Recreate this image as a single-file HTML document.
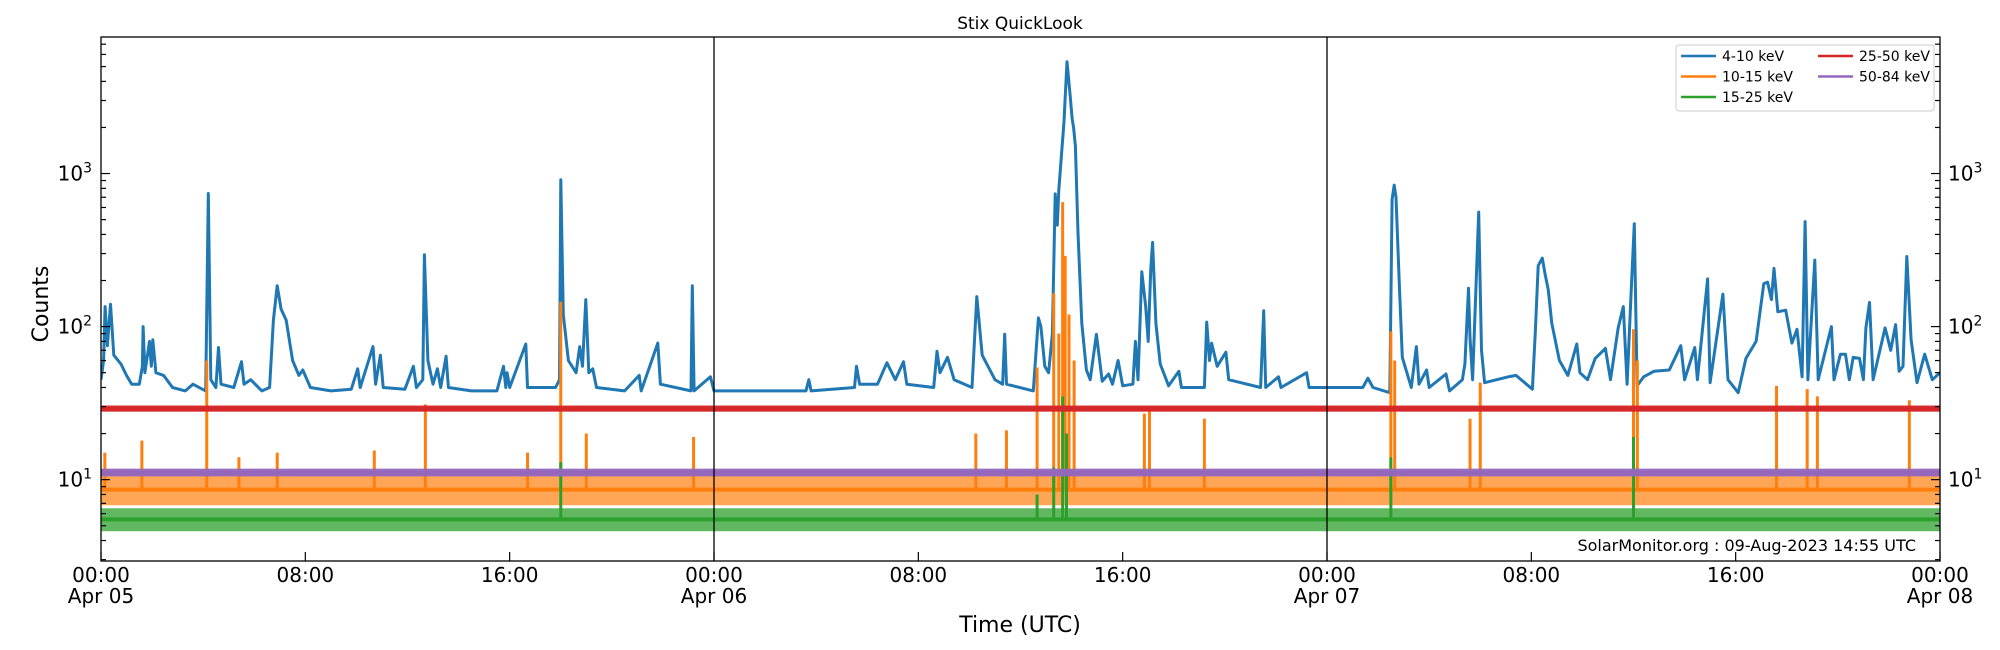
<!DOCTYPE html>
<html><head><meta charset="utf-8"><style>
html,body{margin:0;padding:0;background:#fff;}
svg{display:block;font-family:"DejaVu Sans","Liberation Sans",sans-serif;}
</style></head><body>
<svg id="chart" width="2000" height="650" viewBox="0 0 2000 650" xmlns="http://www.w3.org/2000/svg">
<defs><clipPath id="plotclip"><rect x="101" y="37" width="1839" height="524"/></clipPath></defs>
<text x="1020" y="29" font-size="17" text-anchor="middle">Stix QuickLook</text>
<g id="series" clip-path="url(#plotclip)"></g>
<g id="axes"></g>
<rect x="101" y="37" width="1839" height="524" fill="none" stroke="#000" stroke-width="1.3"/>
<text x="48" y="304" font-size="22" text-anchor="middle" transform="rotate(-90 48 304)">Counts</text>
<text x="1020" y="632" font-size="22" text-anchor="middle">Time (UTC)</text>
<text x="1916" y="551" font-size="16" text-anchor="end">SolarMonitor.org : 09-Aug-2023 14:55 UTC</text>
<g>
<rect x="1676" y="45" width="258" height="66" rx="3" fill="#fff" stroke="#ccc" stroke-width="1"/>
<line x1="1681" y1="56" x2="1716" y2="56" stroke="#1f77b4" stroke-width="2.5"/>
<text x="1722" y="61" font-size="14">4-10 keV</text>
<line x1="1681" y1="76.5" x2="1716" y2="76.5" stroke="#ff7f0e" stroke-width="2.5"/>
<text x="1722" y="81.5" font-size="14">10-15 keV</text>
<line x1="1681" y1="97" x2="1716" y2="97" stroke="#2ca02c" stroke-width="2.5"/>
<text x="1722" y="102" font-size="14">15-25 keV</text>
<line x1="1818" y1="56" x2="1853" y2="56" stroke="#d62728" stroke-width="2.5"/>
<text x="1859" y="61" font-size="14">25-50 keV</text>
<line x1="1818" y1="76.5" x2="1853" y2="76.5" stroke="#9467bd" stroke-width="2.5"/>
<text x="1859" y="81.5" font-size="14">50-84 keV</text>
</g>
</svg>
<script>
// ---- data ----
const blueHours = [0,0.1,0.16,0.25,0.37,0.5,0.78,1.0,1.2,1.5,1.62,1.65,1.72,1.9,1.97,2.03,2.15,2.45,2.8,3.3,3.6,4.1,4.2,4.3,4.5,4.6,4.7,5.2,5.5,5.6,5.86,6.3,6.6,6.75,6.9,7.05,7.25,7.5,7.75,7.9,8.2,9.0,9.8,10.05,10.15,10.65,10.75,10.94,11.05,11.9,12.23,12.35,12.6,12.66,12.8,13.0,13.17,13.3,13.51,13.6,14.5,15.5,15.76,15.85,15.9,16.0,16.63,16.7,17.8,17.95,18.0,18.1,18.3,18.6,18.74,18.85,18.98,19.1,19.25,19.4,20.5,21.07,21.15,21.8,21.9,23.1,23.15,23.22,23.86,24.0,27.6,27.71,27.8,29.5,29.58,29.7,30.4,30.77,31.1,31.42,31.55,32.6,32.73,32.85,33.14,33.4,34.1,34.29,34.5,35.0,35.3,35.38,35.45,36.5,36.7,36.8,36.95,37.1,37.25,37.36,37.44,37.5,37.7,37.82,37.95,38.02,38.08,38.15,38.25,38.4,38.58,38.73,38.97,39.2,39.45,39.6,39.82,40.0,40.4,40.5,40.6,40.75,40.9,41.0,41.1,41.17,41.3,41.47,41.8,42.2,42.3,43.2,43.29,43.4,43.48,43.7,44.04,44.15,45.4,45.52,45.6,46.1,46.2,47.2,47.3,49.4,49.6,49.8,50.46,50.55,50.63,50.7,50.83,50.95,51.3,51.5,51.6,51.9,52.0,52.66,52.8,53.3,53.4,53.54,53.6,53.7,53.94,54.05,54.17,55.1,55.4,56.04,56.16,56.27,56.43,56.54,56.66,56.8,57.1,57.43,57.78,57.9,58.2,58.5,58.9,59.1,59.4,59.6,59.75,59.9,60.03,60.14,60.4,60.8,61.4,61.85,62.0,62.4,62.5,62.9,63.0,63.5,63.7,64.1,64.4,64.8,65.1,65.25,65.4,65.5,65.65,65.96,66.2,66.4,66.6,66.72,66.83,67.1,67.23,67.75,67.85,68.1,68.3,68.45,68.6,68.85,69.0,69.1,69.24,69.38,69.85,70.07,70.26,70.4,70.55,70.7,70.87,71.1,71.4,71.7,72];
const blueCounts = [45,60,135,75,140,65,57,48,42,42,55,100,50,80,55,82,50,48,40,38,42,38,740,45,40,73,42,40,59,42,45,38,40,110,185,130,110,60,48,52,40,38,39,53,40,74,42,65,40,39,55,40,45,295,60,42,53,40,64,40,38,38,55,40,50,40,77,40,40,45,910,120,60,50,74,55,150,50,53,40,38,48,38,78,42,38,185,38,47,38,38,45,38,40,55,42,42,58,45,59,42,40,69,50,63,45,40,157,65,45,42,89,42,38,114,100,55,50,90,736,460,780,2140,5370,3160,2300,1990,1510,410,105,52,45,89,44,49,42,60,41,42,80,45,228,135,80,240,355,105,57,41,51,40,40,107,60,78,55,68,45,40,127,40,47,40,50,40,40,46,40,37,680,840,700,190,63,40,74,42,52,40,49,38,45,57,178,85,45,560,70,43,47,48,39,95,250,280,220,175,105,60,48,77,50,45,62,72,45,98,135,42,155,470,41,47,51,52,75,45,73,45,205,43,163,45,37,62,80,191,195,150,240,125,128,78,96,47,485,45,272,45,100,45,66,66,45,63,62,45,98,144,45,98,70,103,51,55,287,82,43,66,45,50];
const orangeSpikeHours = [0.15,1.6,4.14,5.4,6.9,10.7,12.7,16.7,18.0,19.0,23.2,34.25,35.45,36.65,37.3,37.5,37.65,37.75,37.9,38.1,40.85,41.05,43.2,50.5,50.65,53.6,54.0,60.0,60.15,65.6,66.8,67.2,70.8];
const orangeSpikeValues = [15,18,60,14,15,15.5,31,15,145,20,19,20,21,54,165,90,650,290,120,60,27,28,25,93,60,25,43,96,60,41,39,35,33];
const greenSpikeHours = [18.0,36.65,37.3,37.65,37.8,50.5,60.0];
const greenSpikeValues = [13,8,12,35,20,14,19];
const bandNames = ["orange","green","red","purple"];
const bandLow = [6.8, 4.6, 27.8, 10.5];
const bandHigh = [10.8, 6.5, 30.5, 11.8];
const bandMid = [8.6, 5.5, 29, 11.1];
const bandOpacity = [0.7, 0.75, 0.95, 0.95];
const xTickHours = [0,8,16,24,32,40,48,56,64,72];
const xTickTimes = ["00:00","08:00","16:00","00:00","08:00","16:00","00:00","08:00","16:00","00:00"];
const xTickDates = ["Apr 05","","","Apr 06","","","Apr 07","","","Apr 08"];
const yDecades = [1,2,3];

// ---- scales ----
const X0=101, X1=1940, Y0=37, Y1=561;
const LMIN=Math.log10(2.94), LMAX=Math.log10(7800);
function xs(h){return X0+(h/72)*(X1-X0);}
function ys(v){return Y1-(Math.log10(v)-LMIN)/(LMAX-LMIN)*(Y1-Y0);}
const NS="http://www.w3.org/2000/svg";
function mk(tag,attrs,parent){const e=document.createElementNS(NS,tag);for(const k in attrs)e.setAttribute(k,attrs[k]);parent.appendChild(e);return e;}
const series=document.getElementById('series');
const axes=document.getElementById('axes');
const colors={orange:"#ff7f0e",green:"#2ca02c",red:"#d62728",purple:"#9467bd"};

// blue line
let d="";
for(let i=0;i<blueHours.length;i++){d+=(i?"L":"M")+xs(blueHours[i]).toFixed(1)+","+ys(blueCounts[i]).toFixed(1);}
const blue=mk('path',{d:d,fill:"none",stroke:"#1f77b4","stroke-width":"3","stroke-linejoin":"round"},series);



function band(i){
  const c=colors[bandNames[i]];
  const r=mk('rect',{x:X0,y:ys(bandHigh[i]),width:X1-X0,height:ys(bandLow[i])-ys(bandHigh[i]),fill:c,opacity:bandOpacity[i]},series);
  
  
  const l=mk('line',{x1:X0,x2:X1,y1:ys(bandMid[i]),y2:ys(bandMid[i]),stroke:c,"stroke-width":"4"},series);
  
  
}
function spikes(hours,vals,i){
  const c=colors[bandNames[i]];
  for(let k=0;k<hours.length;k++){
    const s=mk('line',{x1:xs(hours[k]),x2:xs(hours[k]),y1:ys(bandMid[i]),y2:ys(vals[k]),stroke:c,"stroke-width":"3"},series);
    
    
  }
}
band(0); spikes(orangeSpikeHours,orangeSpikeValues,0);
band(1); spikes(greenSpikeHours,greenSpikeValues,1);
band(2);
band(3);

// day separators
[24,48].forEach(h=>{
  const v=mk('line',{x1:xs(h),x2:xs(h),y1:Y0,y2:Y1,stroke:"#000","stroke-width":"1.3"},axes);
  
  
});
// x ticks
for(let i=0;i<xTickHours.length;i++){
  const x=xs(xTickHours[i]);
  const t=mk('line',{x1:x,x2:x,y1:Y1,y2:Y1-9,stroke:"#000","stroke-width":"1.2"},axes);
  
  
  const a=mk('text',{x:x,y:582,"font-size":"20","text-anchor":"middle"},axes);a.textContent=xTickTimes[i];
  
  
  if(xTickDates[i]){const b=mk('text',{x:x,y:603,"font-size":"20","text-anchor":"middle"},axes);b.textContent=xTickDates[i];
  
  }
}
// y ticks
for(let dec=0;dec<=3;dec++){
  for(let m=1;m<=9;m++){
    const v=m*Math.pow(10,dec);
    if(v<2.94||v>7800)continue;
    const y=ys(v),len=(m===1)?9:5;
    [[X0,X0+len],[X1,X1-len]].forEach(p=>{
      const t=mk('line',{x1:p[0],x2:p[1],y1:y,y2:y,stroke:"#000","stroke-width":"1.2"},axes);
      
      
    });
  }
}
yDecades.forEach(e=>{
  const y=ys(Math.pow(10,e));
  const l=mk('text',{x:92,y:y+7,"font-size":"20","text-anchor":"end"},axes);
  l.innerHTML='10<tspan dy="-8" font-size="14">'+e+'</tspan>';
  
  
  const r=mk('text',{x:1948,y:y+7,"font-size":"20","text-anchor":"start"},axes);
  r.innerHTML='10<tspan dy="-8" font-size="14">'+e+'</tspan>';
  
  
});
</script>
</body></html>
